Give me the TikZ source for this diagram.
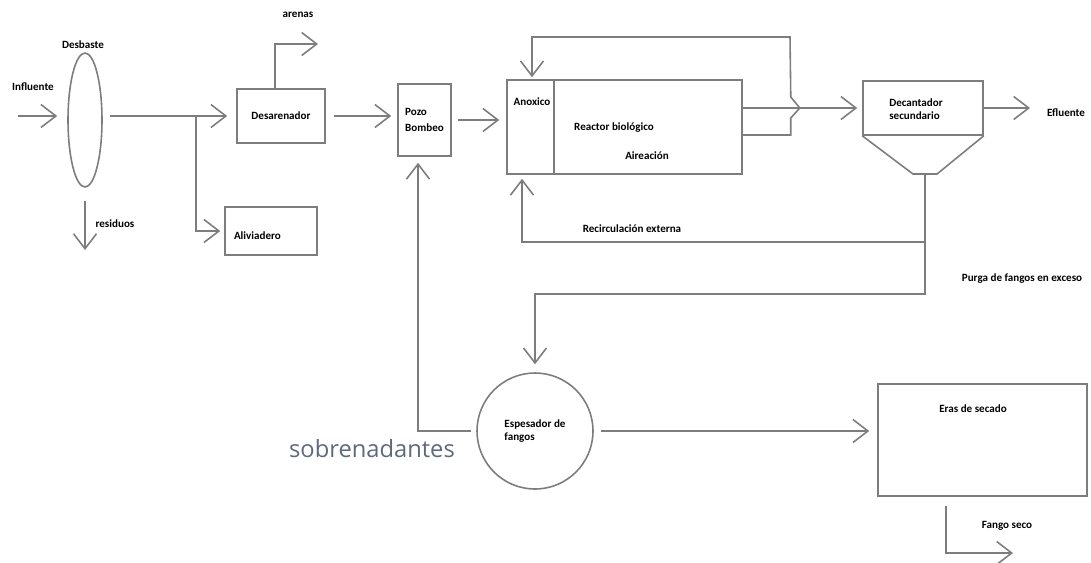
\documentclass[tikz,border=0pt]{standalone}
\usepackage{fontspec}
\setmainfont{Carlito}
\newfontfamily\sobfont{Open Sans}
\usetikzlibrary{shapes.geometric,arrows.meta,positioning}
\definecolor{lc}{RGB}{125,125,125}
\definecolor{sob}{RGB}{95,105,125}

\begin{document}
\begin{tikzpicture}[x=0.02cm, y=-0.02cm, line width=0.9pt,
    blk/.style = {draw=lc, inner sep=0, font=\fontsize{6.3}{7.5}\selectfont\bfseries},
    lbl/.style = {inner sep=0, font=\fontsize{6.3}{7.5}\selectfont\bfseries},
    flow/.style = {draw=lc, -{Straight Barb[length=3mm, width=4.6mm]}}]

    \useasboundingbox (0,0) rectangle (1091,562);

    % blocks
    \node[blk, ellipse, minimum width=0.68cm, minimum height=2.68cm] (desb) at (85,120) {};
    \node[blk, minimum width=1.76cm, minimum height=1.08cm] (desar) at (281,116) {Desarenador};
    \node[blk, minimum width=1.84cm, minimum height=0.96cm] (alivi) at (271,231) {};
    \node[blk, minimum width=1.06cm, minimum height=1.44cm, align=left] (pozo) at (424.5,120) {Pozo\\[2pt]Bombeo};
    \node[blk, minimum width=0.94cm, minimum height=1.88cm] (anox) at (530.5,127) {};
    \node[blk, minimum width=3.76cm, minimum height=1.88cm] (reac) at (648,127) {};
    \node[blk, minimum width=2.4cm, minimum height=1.08cm] (decant) at (923,108) {};
    \coordinate (hop) at (925,174);
    \draw[lc] (decant.south west) -- ([xshift=-0.24cm]hop) -- ([xshift=0.24cm]hop) -- (decant.south east);
    \node[blk, circle, minimum size=2.32cm, align=left] (espes) at (535,431) {Espesador de\\fangos};
    \node[blk, minimum width=4.18cm, minimum height=2.24cm] (eras) at (982.5,440) {};

    % labels
    \node[lbl] (inftxt) at (33,87) {Influente};
    \node[lbl] (desbtxt) at (83,45) {Desbaste};
    \node[lbl] (residtxt) at (115,224) {residuos};
    \node[lbl] (arentxt) at (298,15) {arenas};
    \node[lbl, right=0.18cm of alivi.west, yshift=-0.1cm] (alivitxt) {Aliviadero};
    \node[lbl] (anoxtxt) at (532,102) {Anoxico};
    \node[lbl] (reactxt) at (614,128) {Reactor biológico};
    \node[lbl] (airetxt) at (647,156) {Aireación};
    \node[lbl, align=left] (decanttxt) at (916,109) {Decantador\\secundario};
    \node[lbl] (recitxt) at (632,229) {Recirculación externa};
    \node[lbl] (eflutxt) at (1066,113) {Efluente};
    \node[lbl] (purgtxt) at (1022,279) {Purga de fangos en exceso};
    \node[lbl, below=0.42cm of eras.north, xshift=-0.19cm] (erastxt) {Eras de secado};
    \node[lbl] (secotxt) at (1007,526) {Fango seco};
    \node[inner sep=0, text=sob, font=\sobfont\fontsize{13.5}{15}\selectfont] (sobtxt) at (372,449) {sobrenadantes};

    % line
    \coordinate (infin) at (18,116);
    \coordinate (spl) at (196,116);
    \coordinate (aren) at (318,44);
    \coordinate (resid) at (85,250);
    \coordinate (loop) at (790,37);
    \coordinate (eflu) at (1030,108);
    \coordinate (seco) at (1013,553);

    \draw[flow, shorten >=0.2cm] (infin) -- (infin -| desb.west);
    \draw[flow, shorten <=0.14cm, shorten >=0.18cm] (desb.east |- desar.west) -- (desar.west);
    \draw[flow, shorten >=0.08cm] (spl) |- (alivi.west);
    \draw[flow] ([xshift=-0.12cm]desar.north) |- (aren);
    \draw[flow, shorten <=0.26cm] (desb.south) -- (resid);
    \draw[flow, shorten <=0.16cm, shorten >=0.12cm] (desar.east) -- (desar.east -| pozo.west);
    \draw[flow, shorten <=0.12cm, shorten >=0.14cm] (pozo.east) -- (pozo.east -| anox.west);
    \draw[flow, shorten >=0.1cm] ([yshift=0.38cm]reac.east) -- (decant.west);
    \draw[flow, shorten >=0.04cm] ([yshift=-0.16cm]reac.east) -- ++(48,0) -- ++(0,-17) -- ++(9,-10) -- ++(-9,-11) -- (loop) -| ([xshift=0.03cm]anox.north);
    \draw[flow] (decant.east) -- (eflu);
    \draw[flow, shorten >=0.08cm] (hop) -- ++(0,68) coordinate (recj) -| ([xshift=-0.17cm]anox.south);
    \draw[flow, shorten >=0.16cm] (recj) -- ++(0,52) -| (espes.north);
    \draw[flow, shorten <=0.1cm, shorten >=0.12cm] (espes.west) -| ([xshift=-0.13cm]pozo.south);
    \draw[flow, shorten <=0.14cm, shorten >=0.16cm] (espes.east) -- (espes.east -| eras.west);
    \draw[flow, shorten <=0.18cm] ([xshift=-0.73cm]eras.south) |- (seco);
\end{tikzpicture}
\end{document}
